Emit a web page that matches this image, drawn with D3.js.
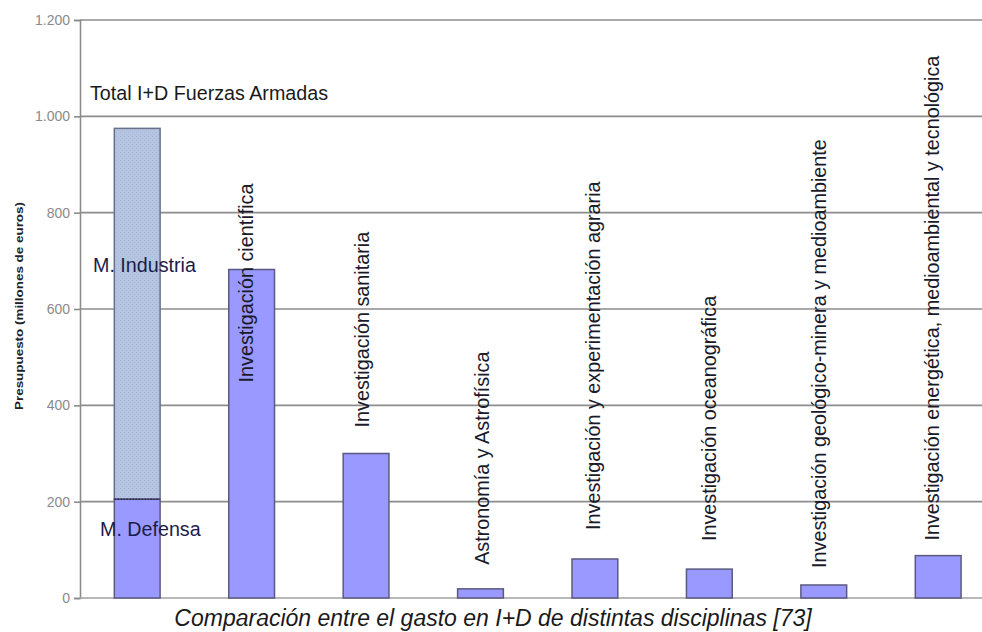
<!DOCTYPE html>
<html><head><meta charset="utf-8">
<script src="https://cdn.jsdelivr.net/npm/d3@7"></script>
<style>body{margin:0;background:#fff;} svg{display:block;font-family:"Liberation Sans",Arial,sans-serif;}</style>
</head><body>
<svg id="c" width="982" height="632"></svg>
<script>
const categories = ["Total I+D Fuerzas Armadas","Investigación científica","Investigación sanitaria","Astronomía y Astrofísica","Investigación y experimentación agraria","Investigación oceanográfica","Investigación geológico-minera y medioambiente","Investigación energética, medioambiental y tecnológica"];
const values = [975, 682, 300, 19, 81, 60, 27, 88];
const defensa = 205;
const industria = 770;
const yTicks = [0, 200, 400, 600, 800, 1000, 1200];
const yTickLabels = ["0","200","400","600","800","1.000","1.200"];
const segLabels = ["M. Defensa","M. Industria"];
const yTitle = "Presupuesto (millones de euros)";
const caption = "Comparación entre el gasto en I+D de distintas disciplinas [73]";

const svg = d3.select("#c");
const x = d3.scaleBand().domain(d3.range(categories.length)).range([80, 995.4]).paddingInner(0.6).paddingOuter(0.3);
const y = d3.scaleLinear().domain([0, 1200]).range([598, 20]);

const defs = svg.append("defs");
const pat = defs.append("pattern").attr("id","hatch").attr("patternUnits","userSpaceOnUse").attr("width",4).attr("height",4);
pat.append("rect").attr("width",4).attr("height",4).attr("fill","#b5c5e1");
pat.append("rect").attr("x",0).attr("y",0).attr("width",1).attr("height",1).attr("fill","#a7b7d5");
pat.append("rect").attr("x",2).attr("y",2).attr("width",1).attr("height",1).attr("fill","#a7b7d5");

// gridlines
svg.append("g").selectAll("line").data(yTicks.filter(d=>d>0)).join("line")
  .attr("x1",80).attr("x2",995).attr("y1",d=>y(d)).attr("y2",d=>y(d))
  .attr("stroke","#8c8c8c").attr("stroke-width",1.6);

// y axis
const yAxis = d3.axisLeft(y).tickValues(yTicks).tickSize(6).tickFormat((d,i)=>yTickLabels[i]);
const ga = svg.append("g").attr("transform","translate(80,0)").call(yAxis);
ga.select(".domain").attr("stroke","#8c8c8c").attr("stroke-width",1.6);
ga.selectAll(".tick line").attr("stroke","#8c8c8c").attr("stroke-width",1.6);
ga.selectAll(".tick text").attr("fill","#8a8a8a").attr("font-size",14).attr("x",-10).attr("font-family","Liberation Sans, Arial, sans-serif");
// baseline
svg.append("line").attr("x1",80).attr("x2",995).attr("y1",y(0)).attr("y2",y(0)).attr("stroke","#a0a0a0").attr("stroke-width",1.6);

// bars
const bw = x.bandwidth();
svg.append("rect").attr("x",x(0)).attr("y",y(defensa+industria)).attr("width",bw).attr("height",y(defensa)-y(defensa+industria))
  .attr("fill","url(#hatch)").attr("stroke","#66708a").attr("stroke-width",1.5);
svg.append("rect").attr("x",x(0)).attr("y",y(defensa)).attr("width",bw).attr("height",y(0)-y(defensa))
  .attr("fill","#9999ff").attr("stroke","#5a5a80").attr("stroke-width",1.5);
svg.append("line").attr("x1",x(0)).attr("x2",x(0)+bw).attr("y1",y(defensa)).attr("y2",y(defensa))
  .attr("stroke","#2a2a5a").attr("stroke-width",1.5).attr("stroke-dasharray","2,1");

svg.append("g").selectAll("rect").data(values.slice(1)).join("rect")
  .attr("x",(d,i)=>x(i+1)).attr("y",d=>y(d)).attr("width",bw).attr("height",d=>y(0)-y(d))
  .attr("fill","#9999ff").attr("stroke","#5a5a80").attr("stroke-width",1.5);

// rotated category labels
const labelGap = [0, -113, 26, 24, 29, 28, 17, 15];
const labelDx = [0, -6, -4, 2, -2, 0, -5, -6];
svg.append("g").selectAll("text").data(categories.slice(1)).join("text")
  .attr("transform",(d,i)=>`translate(${x(i+1)+bw/2+labelDx[i+1]},${y(values[i+1])-labelGap[i+1]}) rotate(-90)`)
  .attr("dy","0.35em").attr("font-size",19.8).attr("fill","#1a1a2a").text(d=>d);

// first bar labels
svg.append("text").attr("x",90).attr("y",100).attr("font-size",19.7).attr("fill","#1a1a1a").text(categories[0]);
svg.append("text").attr("x",93).attr("y",272).attr("font-size",19.7).attr("fill","#1c1c48").text(segLabels[1]);
svg.append("text").attr("x",100).attr("y",536).attr("font-size",19.7).attr("fill","#1c1c48").text(segLabels[0]);

// y title
svg.append("text").attr("transform","translate(23,306) rotate(-90)").attr("text-anchor","middle")
  .attr("font-size",11).attr("font-weight","bold").attr("fill","#222")
  .attr("textLength",208).attr("lengthAdjust","spacingAndGlyphs").text(yTitle);

// caption
svg.append("text").attr("x",493).attr("y",626).attr("text-anchor","middle").attr("font-size",23)
  .attr("font-style","italic").attr("fill","#1a1a1a").text(caption);
</script>
</body></html>
